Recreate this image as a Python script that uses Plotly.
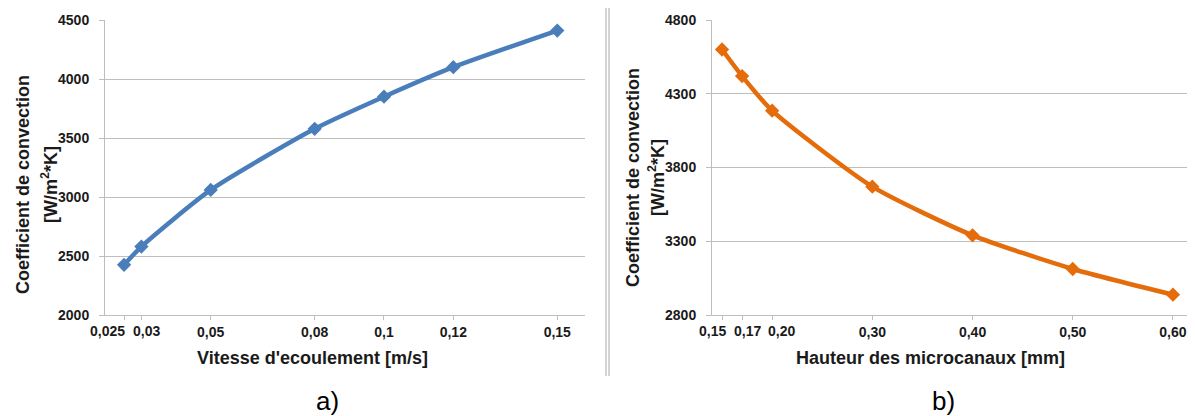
import plotly.graph_objects as go

# The page body adds an 8px margin; size the figure so that it fills the 1195x416 window.
OFF = 8
W, H = 1195 - OFF, 416 - OFF

# Data
vitesse = [0.025, 0.03, 0.05, 0.08, 0.1, 0.12, 0.15]
h_vitesse = [2425, 2580, 3060, 3578, 3850, 4100, 4410]
vitesse_ticktext = ["0,025", "0,03", "0,05", "0,08", "0,1", "0,12", "0,15"]

hauteur = [0.15, 0.17, 0.20, 0.30, 0.40, 0.50, 0.60]
h_hauteur = [4600, 4420, 4185, 3670, 3340, 3112, 2938]
hauteur_ticktext = ["0,15", "0,17", "0,20", "0,30", "0,40", "0,50", "0,60"]

yticks_a = [2000, 2500, 3000, 3500, 4000, 4500]
yticks_b = [2800, 3300, 3800, 4300, 4800]

ylabel = "Coefficient de convection"
yunit = "[W/m<sup>2</sup>*K]"
xlabel_a = "Vitesse d'ecoulement [m/s]"
xlabel_b = "Hauteur des microcanaux [mm]"

BLUE = "#4A7EBB"
ORANGE = "#E46C0A"
GRID = "#BEBEBE"
FONT = "Liberation Sans, Arial, sans-serif"
TXT = "#1a1a1a"

def px(x):
    return (x - OFF) / W

def py(y):
    return 1 - (y - OFF) / H

# crowded tick labels are placed with a small horizontal shift (px), others drawn by the axis
shift_a = [-17, 5, None, None, None, None, None]
shift_b = [-10, 5, 9, None, None, None, None]

fig = go.Figure()
fig.add_trace(go.Scatter(
    x=vitesse, y=h_vitesse, mode="lines+markers", line=dict(color=BLUE, width=4.5, shape="spline", smoothing=0.6),
    marker=dict(symbol="diamond", size=11, color=BLUE), xaxis="x", yaxis="y", showlegend=False))
fig.add_trace(go.Scatter(
    x=hauteur, y=h_hauteur, mode="lines+markers", line=dict(color=ORANGE, width=4.5, shape="spline", smoothing=0.6),
    marker=dict(symbol="diamond", size=11, color=ORANGE), xaxis="x2", yaxis="y2", showlegend=False))

tickfont = dict(family=FONT, size=14, color=TXT)
common_x = dict(showgrid=False, zeroline=False, showline=True, linecolor=GRID, linewidth=1,
                ticks="outside", ticklen=4, tickcolor=GRID, tickfont=tickfont, tickmode="array",
                tickangle=0, automargin=False)
common_y = dict(showgrid=True, gridcolor=GRID, gridwidth=1, zeroline=False, showline=True,
                linecolor=GRID, linewidth=1, ticks="outside", ticklen=5, tickcolor=GRID,
                tickfont=tickfont, ticklabelstandoff=7, tickmode="array", automargin=False)

def axis_text(texts, shifts):
    return ["" if s is not None else "<b>%s</b>" % t for t, s in zip(texts, shifts)]

fig.update_layout(
    width=W, height=H, margin=dict(l=0, r=0, t=0, b=0, autoexpand=False),
    paper_bgcolor="white", plot_bgcolor="white",
    font=dict(family=FONT, color=TXT),
    xaxis=dict(domain=[px(105), px(585)], range=[0.0195, 0.158], anchor="y",
               tickvals=vitesse, ticktext=axis_text(vitesse_ticktext, shift_a), **common_x),
    yaxis=dict(domain=[py(315), py(20)], range=[2000, 4500], anchor="x",
               tickvals=yticks_a, ticktext=["<b>%d</b>" % v for v in yticks_a], **common_y),
    xaxis2=dict(domain=[px(712), px(1193)], range=[0.14, 0.62], anchor="y2",
                tickvals=hauteur, ticktext=axis_text(hauteur_ticktext, shift_b), **common_x),
    yaxis2=dict(domain=[py(315), py(20)], range=[2800, 4800], anchor="x2",
                tickvals=yticks_b, ticktext=["<b>%d</b>" % v for v in yticks_b], **common_y),
)

anns = []
for xref, vals, texts, shifts in [("x", vitesse, vitesse_ticktext, shift_a),
                                   ("x2", hauteur, hauteur_ticktext, shift_b)]:
    for v, t, s in zip(vals, texts, shifts):
        if s is None:
            continue
        anns.append(dict(text="<b>%s</b>" % t, x=v, xref=xref, y=py(331), yref="paper", xshift=s,
                         showarrow=False, font=tickfont, xanchor="center", yanchor="middle"))
# y titles
for xc1, xc2, yc in [(23, 49, 185), (633, 656, 178)]:
    anns.append(dict(text="<b>%s</b>" % ylabel, x=px(xc1), y=py(yc), xref="paper", yref="paper",
                     textangle=-90, showarrow=False, font=dict(family=FONT, size=18, color=TXT),
                     xanchor="center", yanchor="middle"))
    anns.append(dict(text="<b>%s</b>" % yunit, x=px(xc2), y=py(yc), xref="paper", yref="paper",
                     textangle=-90, showarrow=False, font=dict(family=FONT, size=18, color=TXT),
                     xanchor="center", yanchor="middle"))
# x titles
anns.append(dict(text="<b>%s</b>" % xlabel_a, x=px(313), y=py(358), xref="paper", yref="paper",
                 showarrow=False, font=dict(family=FONT, size=18, color=TXT), xanchor="center", yanchor="middle"))
anns.append(dict(text="<b>%s</b>" % xlabel_b, x=px(930), y=py(358), xref="paper", yref="paper",
                 showarrow=False, font=dict(family=FONT, size=18, color=TXT), xanchor="center", yanchor="middle"))
# panel labels
anns.append(dict(text="a)", x=px(327), y=py(401), xref="paper", yref="paper",
                 showarrow=False, font=dict(family=FONT, size=26, color="#000"), xanchor="center", yanchor="middle"))
anns.append(dict(text="b)", x=px(943), y=py(401), xref="paper", yref="paper",
                 showarrow=False, font=dict(family=FONT, size=26, color="#000"), xanchor="center", yanchor="middle"))
fig.update_layout(annotations=anns)

shapes = []
for xs in [606, 609]:
    shapes.append(dict(type="line", xref="paper", yref="paper", x0=px(xs), x1=px(xs), y0=py(376), y1=1,
                       line=dict(color="#A8A8A8", width=1)))
fig.update_layout(shapes=shapes)

fig.write_html("out.html")
